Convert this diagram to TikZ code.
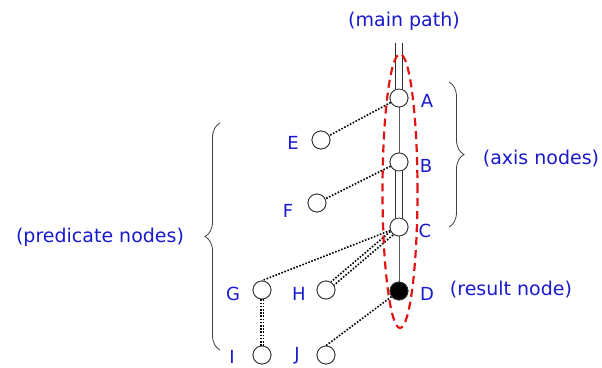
\documentclass[tikz,border=0pt]{standalone}
\usepackage{fontspec}
\setmainfont{DejaVu Sans}
\usetikzlibrary{decorations.pathreplacing}
\definecolor{txtblue}{RGB}{25,25,205}
\definecolor{ellred}{RGB}{225,20,20}
\definecolor{pathgray}{RGB}{90,90,90}
\begin{document}
\begin{tikzpicture}[x=1pt,y=-1pt,
  nd/.style={circle,draw=black!80,line width=0.8pt,fill=white,minimum size=18pt,inner sep=0pt},
  ndfill/.style={nd,fill=black},
  lbl/.style={text=txtblue,font=\fontsize{18}{20}\selectfont,inner sep=0pt},
  note/.style={text=txtblue,font=\fontsize{19}{22}\selectfont,inner sep=0pt},
  childedge/.style={draw=pathgray,line width=1pt},
  descedge/.style={draw=black!80,line width=0.8pt,double=white,double distance=6pt},
  dotedge/.style={draw=black,line width=1.6pt,dash pattern=on 1.6pt off 1.6pt},
  bracestyle/.style={draw=black!75,line width=0.8pt,decorate,decoration={brace,amplitude=15pt}}
]
\useasboundingbox (0,0) rectangle (602,367);
% nodes
\coordinate (top) at (399,43);
\node[nd] (A) at (399,98) {};
\node[nd] (B) at (399,162) {};
\node[nd] (C) at (399,227) {};
\node[ndfill] (D) at (399,291) {};
\node[nd] (E) at (321,140) {};
\node[nd] (F) at (317,203) {};
\node[nd] (G) at (262,290) {};
\node[nd] (H) at (326,290) {};
\node[nd] (I) at (262,355) {};
\node[nd] (J) at (326,355) {};
% edges
\path[descedge] (top) -- (A.north);
\path[childedge] (A.south) -- (B.north);
\path[descedge] (B.south) -- (C.north);
\path[childedge] (C.south) -- (D.north);
\path[dotedge] (A) -- (E);
\path[dotedge] (B) -- (F);
\path[dotedge] (C) -- (G.north);
\path[dotedge] ([shift={(1.4,1.7)}]C.center) -- ([shift={(1.4,1.7)}]H.north east);
\path[dotedge] ([shift={(-1.4,-1.7)}]C.center) -- ([shift={(-1.4,-1.7)}]H.north east);
\path[dotedge] ([xshift=-1.3pt]G.south) -- ([xshift=-1.3pt]I.north);
\path[dotedge] ([xshift=1.3pt]G.south) -- ([xshift=1.3pt]I.north);
\path[dotedge] (D) -- (J.north);
% redraw circles on top of edges
\node[nd] at (A) {};
\node[nd] at (B) {};
\node[nd] at (C) {};
\node[ndfill] at (D) {};
\node[nd] at (E) {};
\node[nd] at (F) {};
\node[nd] at (G) {};
\node[nd] at (H) {};
\node[nd] at (I) {};
\node[nd] at (J) {};
% ellipse
\draw[ellred,line width=2.2pt,dash pattern=on 8pt off 5pt] (400,191) ellipse [x radius=17.5pt, y radius=137pt];
% labels
\node[lbl] (lA) at (427,101) {A};
\node[lbl] (lB) at (426,166) {B};
\node[lbl] (lC) at (425,231) {C};
\node[lbl] (lD) at (427,294) {D};
\node[lbl] (lE) at (293,143) {E};
\node[lbl] (lF) at (288,211) {F};
\node[lbl] (lG) at (233,294) {G};
\node[lbl] (lH) at (299,294) {H};
\node[lbl] (lI) at (232,357) {I};
\node[lbl] (lJ) at (297,356) {J};
% notes
\node[note] (mp) at (404,21) {(main path)};
\node[note] (an) at (541,159) {(axis nodes)};
\node[note] (rn) at (511,290) {(result node)};
\node[note] (pn) at (100,237) {(predicate nodes)};
% braces
\coordinate (ab1) at (449,82);
\coordinate (ab2) at (449,227);
\coordinate (pb1) at (220,350);
\coordinate (pb2) at (220,123);
\path[bracestyle] (ab1) -- (ab2);
\path[bracestyle] (pb1) -- (pb2);
\end{tikzpicture}
\end{document}
